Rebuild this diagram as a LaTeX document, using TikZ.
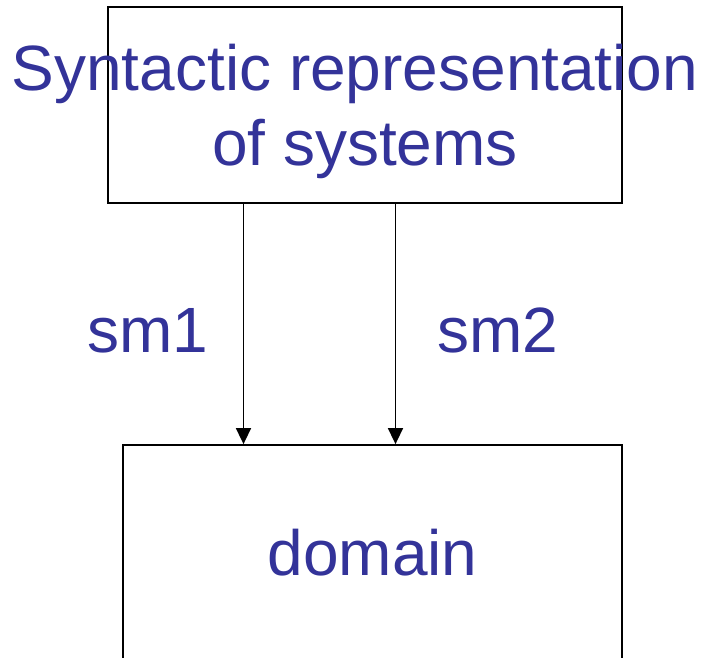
\documentclass[tikz,border=0pt]{standalone}
\usepackage{fontspec}
\setmainfont{Liberation Sans}
\usetikzlibrary{arrows.meta}
\definecolor{txtblue}{RGB}{51,51,153}
\begin{document}
\begin{tikzpicture}[x=1pt,y=-1pt,
  boxst/.style={draw=black,line width=1.8pt,fill=none,inner sep=0pt,rectangle},
  lbl/.style={text=txtblue,font=\fontsize{64}{75}\selectfont,inner sep=0pt},
  arr/.style={line width=1.6pt,-{Triangle[length=16pt,width=15pt]}}]
\useasboundingbox (0,0) rectangle (704,657);
\node[boxst,minimum width=514pt,minimum height=196pt] (top) at (365,105) {};
\node[boxst,minimum width=499pt,minimum height=226pt] (bot) at (372.5,558) {};
\node[lbl,anchor=base] (t1) at (355,90) {Syntactic representation};
\node[lbl,anchor=base] (t2) at (365,165) {of systems};
\node[lbl,anchor=base] (d) at (372.5,575) {domain};
\coordinate (x1) at (243.5,0);
\coordinate (x2) at (395.5,0);
\draw[arr] (top.south -| x1) -- (bot.north -| x1);
\draw[arr] (top.south -| x2) -- (bot.north -| x2);
\node[lbl,anchor=base] (sm1) at (148,352) {sm1};
\node[lbl,anchor=base] (sm2) at (498,352) {sm2};
\end{tikzpicture}
\end{document}
